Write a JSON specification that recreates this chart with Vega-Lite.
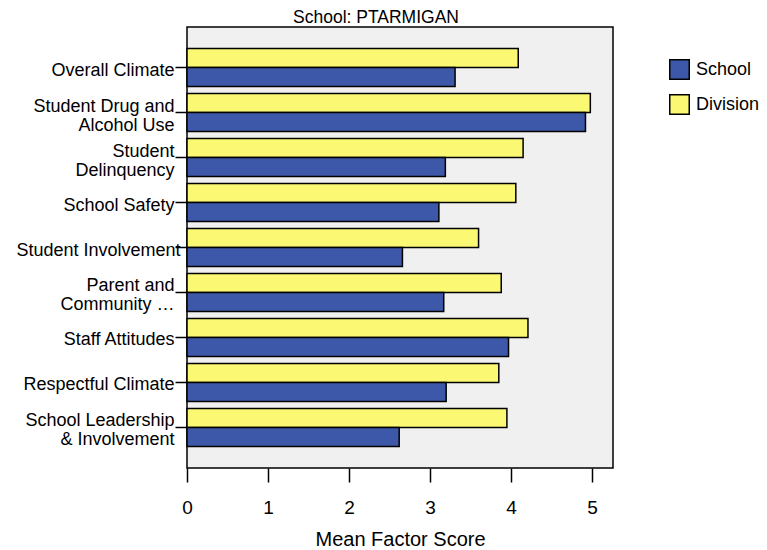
{
  "$schema": "https://vega.github.io/schema/vega-lite/v6.json",
  "width": 426,
  "height": 441,
  "autosize": "none",
  "padding": {"left": 187, "top": 27, "right": 154, "bottom": 82},
  "background": "white",
  "title": {"text": "School: PTARMIGAN", "font": "Liberation Sans", "fontSize": 17.5, "fontWeight": "normal", "color": "black", "anchor": "middle", "dx": -24, "offset": 1},
  "config": {"view": {"fill": "#f0f0f0", "stroke": "black", "strokeWidth": 1.5}, "font": "Liberation Sans"},
  "data": {"values": [
    {"factor": "Overall Climate", "series": "Division", "score": 4.09},
    {"factor": "Overall Climate", "series": "School", "score": 3.31},
    {"factor": "Student Drug and|Alcohol Use", "series": "Division", "score": 4.98},
    {"factor": "Student Drug and|Alcohol Use", "series": "School", "score": 4.92},
    {"factor": "Student|Delinquency", "series": "Division", "score": 4.15},
    {"factor": "Student|Delinquency", "series": "School", "score": 3.19},
    {"factor": "School Safety", "series": "Division", "score": 4.06},
    {"factor": "School Safety", "series": "School", "score": 3.11},
    {"factor": "Student Involvement", "series": "Division", "score": 3.6},
    {"factor": "Student Involvement", "series": "School", "score": 2.66},
    {"factor": "Parent and|Community …", "series": "Division", "score": 3.88},
    {"factor": "Parent and|Community …", "series": "School", "score": 3.17},
    {"factor": "Staff Attitudes", "series": "Division", "score": 4.21},
    {"factor": "Staff Attitudes", "series": "School", "score": 3.97},
    {"factor": "Respectful Climate", "series": "Division", "score": 3.85},
    {"factor": "Respectful Climate", "series": "School", "score": 3.2},
    {"factor": "School Leadership|& Involvement", "series": "Division", "score": 3.95},
    {"factor": "School Leadership|& Involvement", "series": "School", "score": 2.62}
  ]},
  "mark": {"type": "bar", "stroke": "black", "strokeWidth": 1.5},
  "encoding": {
    "y": {
      "field": "factor", "type": "nominal", "sort": null,
      "scale": {"paddingInner": 0.1556, "paddingOuter": 0.478},
      "axis": {"title": null, "labelExpr": "split(datum.label, '|')", "labelFontSize": 18, "labelColor": "black", "labelLineHeight": 19, "labelPadding": {"condition": {"test": "datum.value === 'Student Involvement'", "value": -5}, "value": 1}, "tickSize": 12, "tickColor": "black", "tickWidth": 1.5, "domain": false, "labelOffset": {"condition": {"test": "indexof(datum.value, '|') >= 0", "value": -6}, "value": 3}, "labelLimit": 300}
    },
    "yOffset": {"field": "series", "type": "nominal", "sort": ["Division", "School"], "scale": {"paddingInner": 0, "paddingOuter": 0}},
    "x": {
      "field": "score", "type": "quantitative",
      "scale": {"domain": [0, 5.26], "nice": false},
      "axis": {"title": "Mean Factor Score", "values": [0, 1, 2, 3, 4, 5], "grid": false, "domain": false, "tickSize": 14, "tickColor": "black", "tickWidth": 1.5, "labelFontSize": 19, "labelFlush": false, "labelPadding": 16, "labelColor": "black", "titleFontSize": 20, "titleFontWeight": "normal", "titleColor": "black", "titleY": 77, "titleBaseline": "alphabetic"}
    },
    "color": {
      "field": "series", "type": "nominal",
      "scale": {"domain": ["School", "Division"], "range": ["#3e58a9", "#fbf873"]},
      "legend": {"title": null, "orient": "none", "legendX": 482, "legendY": 32, "symbolType": "square", "symbolSize": 380, "symbolStrokeColor": "black", "symbolStrokeWidth": 1.5, "symbolOpacity": 1, "labelFontSize": 18, "labelColor": "black", "rowPadding": 8, "labelOffset": 6}
    }
  }
}
